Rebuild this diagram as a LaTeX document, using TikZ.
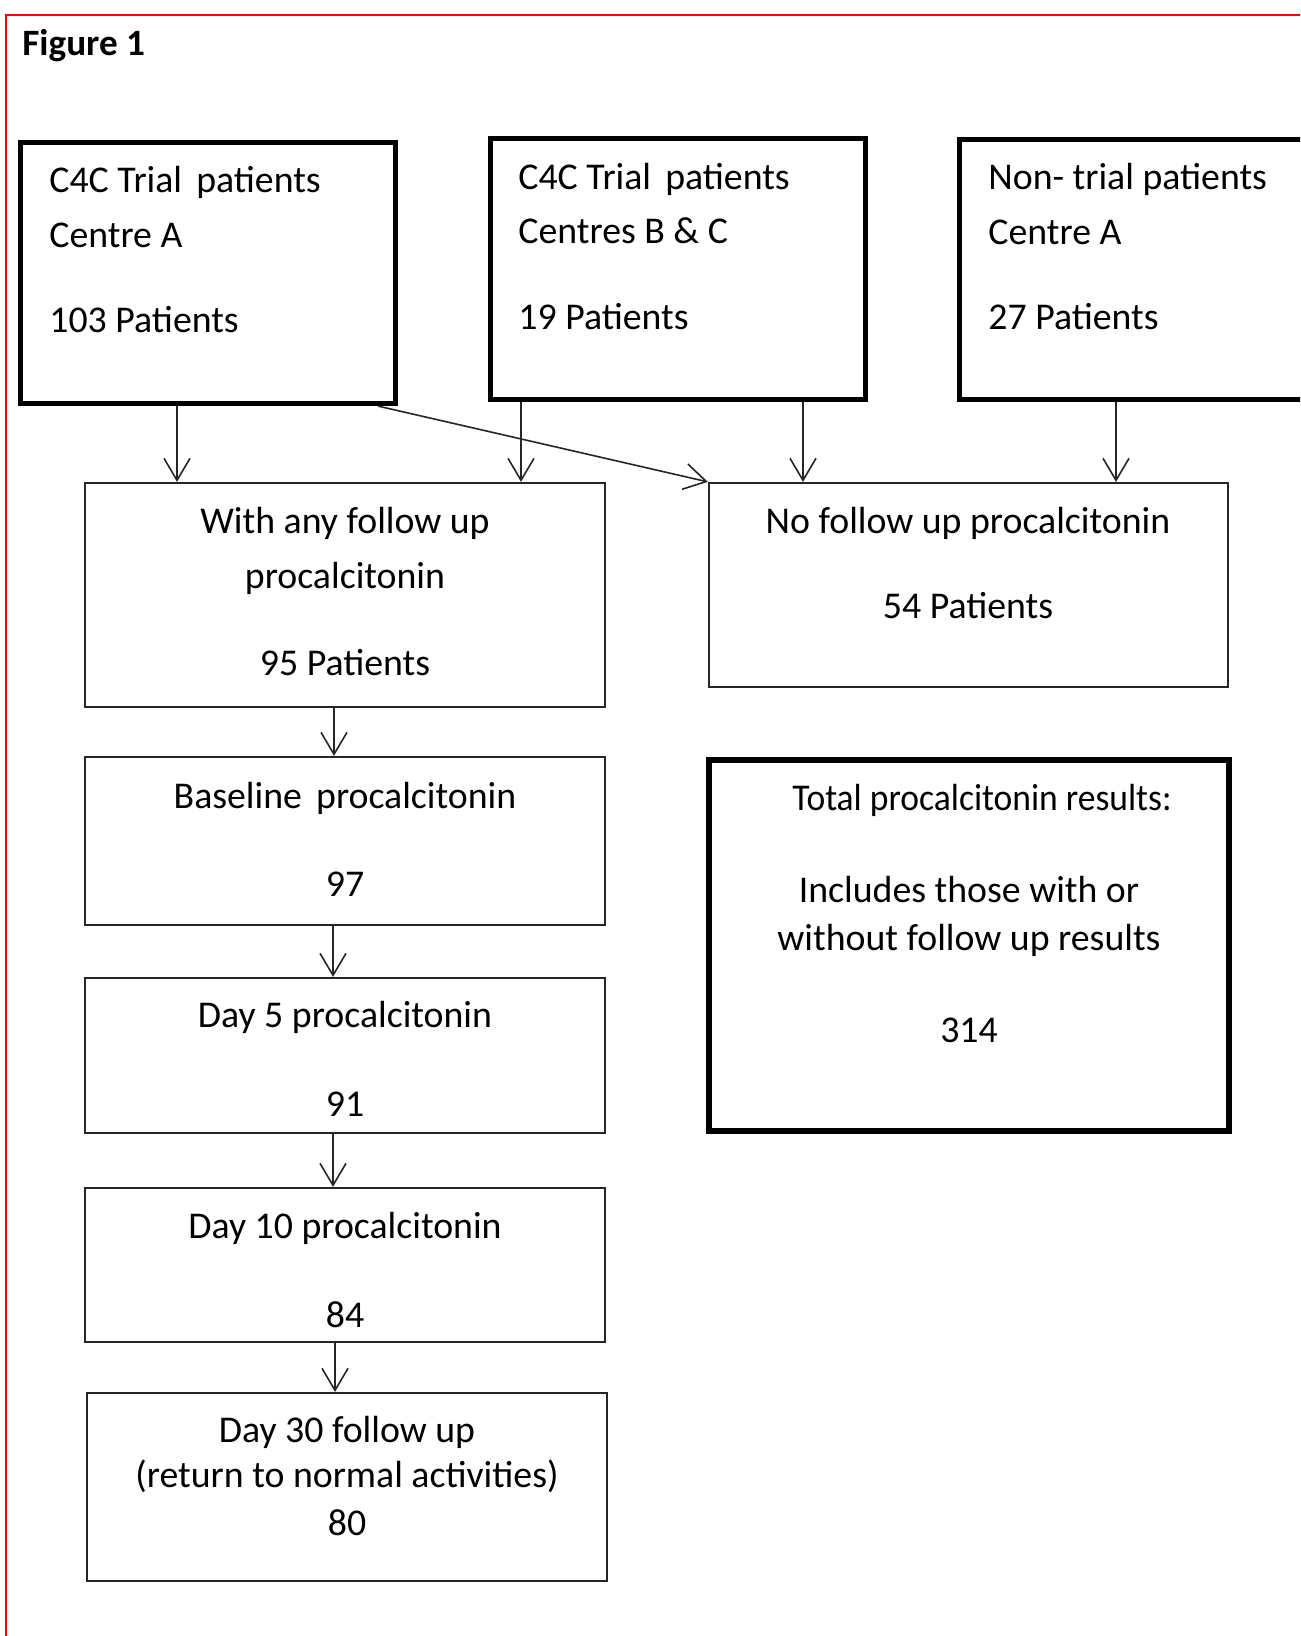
\documentclass[tikz,border=0pt]{standalone}
\usepackage{fontspec}
\setmainfont{Carlito}
\usetikzlibrary{arrows.meta,fit,calc}
\begin{document}
\begin{tikzpicture}[x=0.5pt,y=-0.5pt,
  box/.style={draw=black!85, line width=1.1pt, inner sep=0pt},
  bigbox/.style={draw=black, line width=2.6pt, inner sep=0pt},
  txt/.style={font=\fontsize{18.9}{22}\selectfont, inner sep=0pt, text=black},
  ttl/.style={font=\fontsize{18.6}{22}\selectfont\bfseries, inner sep=0pt, text=black},
  arr/.style={draw=black!85, line width=0.8pt, -{Straight Barb[length=11pt,width=13pt]}},
  redframe/.style={draw=red, line width=1pt}]
\useasboundingbox (0,0) rectangle (1300,1636);
\clip (0,0) rectangle (1300,1636);
\fill[white] (0,0) rectangle (1300,1636);
\draw[redframe] (1310,15) -- (6,15) -- (6,1650);

\node[ttl, anchor=base west] (title) at (22,56) {Figure 1};

% top boxes
\node[bigbox, fit={(20.5,142.5) (395.5,403.5)}] (b1) {};
\node[bigbox, fit={(490.5,138.5) (865.5,399.5)}] (b2) {};
\node[bigbox, fit={(959.5,139.5) (1400,399.5)}] (b3) {};

\node[txt, anchor=base west] (b1a) at (49,193) {C4C Trial\hspace{0.15em} patients};
\node[txt, anchor=base west] (b1b) at (49,248) {Centre A};
\node[txt, anchor=base west] (b1c) at (49,333) {103 Patients};

\node[txt, anchor=base west] (b2a) at (518,190) {C4C Trial\hspace{0.15em} patients};
\node[txt, anchor=base west] (b2b) at (518,244) {Centres B \& C};
\node[txt, anchor=base west] (b2c) at (518,330) {19 Patients};

\node[txt, anchor=base west] (b3a) at (988,190) {Non- trial patients};
\node[txt, anchor=base west] (b3b) at (988,245) {Centre A};
\node[txt, anchor=base west] (b3c) at (988,330) {27 Patients};

% second row
\node[box, fit={(85,483) (605,707)}] (wa) {};
\node[txt, anchor=base] (waa) at (345,533) {With any follow up};
\node[txt, anchor=base] (wab) at (345,588) {procalcitonin};
\node[txt, anchor=base] (wac) at (345,675) {95 Patients};

\node[box, fit={(709,483) (1228,687)}] (nf) {};
\node[txt, anchor=base] (nfa) at (968,533) {No follow up procalcitonin};
\node[txt, anchor=base] (nfb) at (968,618) {54 Patients};

% left column
\node[box, fit={(85,757) (605,925)}] (bl) {};
\node[txt, anchor=base] (bla) at (345,808) {Baseline\hspace{0.15em} procalcitonin};
\node[txt, anchor=base] (blb) at (345,896) {97};

\node[box, fit={(85,978) (605,1133)}] (d5) {};
\node[txt, anchor=base] (d5a) at (345,1027) {Day 5 procalcitonin};
\node[txt, anchor=base] (d5b) at (345,1116) {91};

\node[box, fit={(85,1188) (605,1342)}] (d10) {};
\node[txt, anchor=base] (d10a) at (345,1238) {Day 10 procalcitonin};
\node[txt, anchor=base] (d10b) at (345,1327) {84};

\node[box, fit={(87,1393) (607,1581)}] (d30) {};
\node[txt, anchor=base] (d30a) at (347,1442) {Day 30 follow up};
\node[txt, anchor=base] (d30b) at (347,1487) {(return to normal activities)};
\node[txt, anchor=base] (d30c) at (347,1535) {80};

% total box
\node[bigbox, fit={(709,760) (1229,1131)}] (tot) {};
\node[txt, anchor=base] (tota) at (982,810) {\scalebox{0.94}[1]{Total procalcitonin results:}};
\node[txt, anchor=base] (totb) at (969,902) {Includes those with or};
\node[txt, anchor=base] (totc) at (969,950) {without follow up results};
\node[txt, anchor=base] (totd) at (969,1042) {314};

% connectors
\draw[arr] (b1.south -| 177,0) -- (wa.north -| 177,0);
\draw[arr] (b2.south -| 521,0) -- (wa.north -| 521,0);
\draw[arr] (b2.south -| 803,0) -- (nf.north -| 803,0);
\draw[arr] (b3.south -| 1116,0) -- (nf.north -| 1116,0);
\draw[arr] ([xshift=-10pt]b1.south east) -- (nf.north west);
\draw[arr] (wa.south -| 334,0) -- (bl.north -| 334,0);
\draw[arr] (bl.south -| 333,0) -- (d5.north -| 333,0);
\draw[arr] (d5.south -| 333,0) -- (d10.north -| 333,0);
\draw[arr] (d10.south -| 335,0) -- (d30.north -| 335,0);
\end{tikzpicture}
\end{document}
